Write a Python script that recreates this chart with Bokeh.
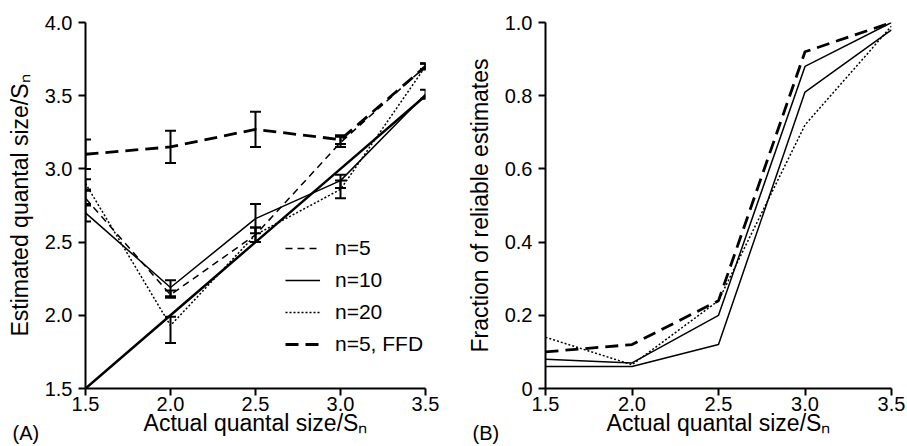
from bokeh.plotting import figure
from bokeh.models import (Range1d, FixedTicker, Whisker, TeeHead, ColumnDataSource,
                          Legend, LegendItem, Label, PrintfTickFormatter)
from bokeh.layouts import row
from bokeh.embed import file_html
from bokeh.resources import INLINE

FONT = "Liberation Sans"

# ---------------- data ----------------
x_vals = [1.5, 2.0, 2.5, 3.0, 3.5]
x_ticks = [1.5, 2.0, 2.5, 3.0, 3.5]
yA_ticks = [1.5, 2.0, 2.5, 3.0, 3.5, 4.0]
yB_ticks = [0, 0.2, 0.4, 0.6, 0.8, 1.0]

# Panel A: estimated quantal size (mean, lower, upper)
n5_est = [2.80, 2.14, 2.55, 3.18, 3.70]
n5_lo = [2.75, 2.12, 2.50, 3.15, 3.68]
n5_hi = [2.85, 2.17, 2.60, 3.22, 3.72]

n10_est = [2.70, 2.19, 2.66, 2.92, 3.51]
n10_lo = [2.64, 2.13, 2.56, 2.87, 3.48]
n10_hi = [2.76, 2.24, 2.76, 2.96, 3.54]

n20_est = [2.90, 1.93, 2.55, 2.86, 3.70]
n20_lo = [2.86, 1.81, 2.50, 2.80, 3.68]
n20_hi = [2.93, 1.99, 2.60, 2.92, 3.72]

ffd_est = [3.10, 3.15, 3.27, 3.20, 3.70]
ffd_lo = [3.00, 3.04, 3.15, 3.17, 3.68]
ffd_hi = [3.20, 3.26, 3.39, 3.23, 3.72]

identity = [1.5, 2.0, 2.5, 3.0, 3.5]

# Panel B: fraction of reliable estimates
fracB_n5 = [0.08, 0.07, 0.20, 0.88, 1.00]
fracB_n10 = [0.06, 0.06, 0.12, 0.81, 0.98]
fracB_n20 = [0.14, 0.065, 0.24, 0.72, 0.99]
fracB_ffd = [0.10, 0.12, 0.24, 0.92, 1.00]

legend_labels = ["n=5", "n=10", "n=20", "n=5, FFD"]

x_label = "Actual quantal size/S\u2099"
yA_label = "Estimated quantal size/S\u2099"
yB_label = "Fraction of reliable estimates"


def style(p):
    p.outline_line_color = None
    p.xgrid.visible = False
    p.ygrid.visible = False
    for ax in (p.xaxis[0], p.yaxis[0]):
        ax.axis_line_width = 2
        ax.axis_line_color = "black"
        ax.major_tick_line_width = 2
        ax.major_tick_line_color = "black"
        ax.major_tick_out = 7
        ax.major_tick_in = 0
        ax.minor_tick_line_color = None
        ax.major_label_text_font = FONT
        ax.major_label_text_font_size = "20px"
        ax.major_label_text_color = "black"
        ax.axis_label_text_font = FONT
        ax.axis_label_text_font_size = "23px"
        ax.axis_label_text_font_style = "normal"
        ax.axis_label_text_color = "black"
    p.xaxis[0].major_label_standoff = 1
    p.xaxis[0].axis_label_standoff = -4
    p.yaxis[0].major_label_standoff = 6
    p.yaxis[0].axis_label_standoff = 9


def txt(text, x, y, dx, dy):
    return Label(x=x, y=y, x_offset=dx, y_offset=dy, text=text,
                 text_font=FONT, text_font_size="20px", text_align="left",
                 text_baseline="middle", text_color="black")


# ---------------- Panel A ----------------
pA = figure(width=455, height=444, output_backend="svg", toolbar_location=None,
            x_range=Range1d(1.5, 3.5), y_range=Range1d(1.5, 4.0),
            min_border_left=85, min_border_right=30, min_border_top=21, min_border_bottom=56)
style(pA)
pA.xaxis.ticker = FixedTicker(ticks=x_ticks)
pA.yaxis.ticker = FixedTicker(ticks=yA_ticks)
pA.xaxis.formatter = PrintfTickFormatter(format="%.1f")
pA.yaxis.formatter = PrintfTickFormatter(format="%.1f")
pA.xaxis.axis_label = x_label
pA.yaxis.axis_label = yA_label

pA.line(x_vals, identity, line_color="black", line_width=2.5)
rA5 = pA.line(x_vals, n5_est, line_color="black", line_width=1.5, line_dash="7 5")
rA10 = pA.line(x_vals, n10_est, line_color="black", line_width=1.5)
rA20 = pA.line(x_vals, n20_est, line_color="black", line_width=1.5, line_dash="2 2")
rAf = pA.line(x_vals, ffd_est, line_color="black", line_width=2.8, line_dash="13 7")

for lo, hi in ((n5_lo, n5_hi), (n10_lo, n10_hi), (n20_lo, n20_hi), (ffd_lo, ffd_hi)):
    src = ColumnDataSource(dict(x=x_vals, lower=lo, upper=hi))
    w = Whisker(source=src, base="x", lower="lower", upper="upper", dimension="height",
                line_width=2, line_color="black",
                upper_head=TeeHead(size=11, line_width=2, line_color="black"),
                lower_head=TeeHead(size=11, line_width=2, line_color="black"))
    pA.add_layout(w)

legA = Legend(items=[LegendItem(label=legend_labels[0], renderers=[rA5]),
                     LegendItem(label=legend_labels[1], renderers=[rA10]),
                     LegendItem(label=legend_labels[2], renderers=[rA20]),
                     LegendItem(label=legend_labels[3], renderers=[rAf])],
              location=(200, 32), border_line_color=None, background_fill_alpha=0,
              padding=0, margin=0, spacing=8, glyph_width=35, glyph_height=24,
              label_height=24, label_standoff=15,
              label_text_font=FONT, label_text_font_size="21px", label_text_color="black")
pA.add_layout(legA, "center")
# panel letter drawn from the (otherwise empty) right side panel so it is not clipped
pA.add_layout(txt("(A)", 1.5, 1.5, -73, -44), "right")

# ---------------- Panel B ----------------
pB = figure(width=450, height=444, output_backend="svg", toolbar_location=None,
            x_range=Range1d(1.5, 3.5), y_range=Range1d(0, 1.0),
            min_border_left=90, min_border_right=14, min_border_top=22, min_border_bottom=54)
style(pB)
pB.xaxis.ticker = FixedTicker(ticks=x_ticks)
pB.yaxis.ticker = FixedTicker(ticks=yB_ticks)
pB.xaxis.formatter = PrintfTickFormatter(format="%.1f")
pB.yaxis.formatter = PrintfTickFormatter(format="%.1f")
pB.yaxis.major_label_overrides = {0: "0"}
pB.xaxis.axis_label = x_label
pB.yaxis.axis_label = yB_label

pB.line(x_vals, fracB_n5, line_color="black", line_width=1.5)
pB.line(x_vals, fracB_n10, line_color="black", line_width=1.5)
pB.line(x_vals, fracB_n20, line_color="black", line_width=1.5, line_dash="2 2")
pB.line(x_vals, fracB_ffd, line_color="black", line_width=2.8, line_dash="13 7")
# panel letter drawn from the top side panel so it is not clipped
pB.add_layout(txt("(B)", 1.5, 0, -73, -44), "above")

layout = row(pA, pB)
open("out.html", "w").write(file_html(layout, INLINE))
